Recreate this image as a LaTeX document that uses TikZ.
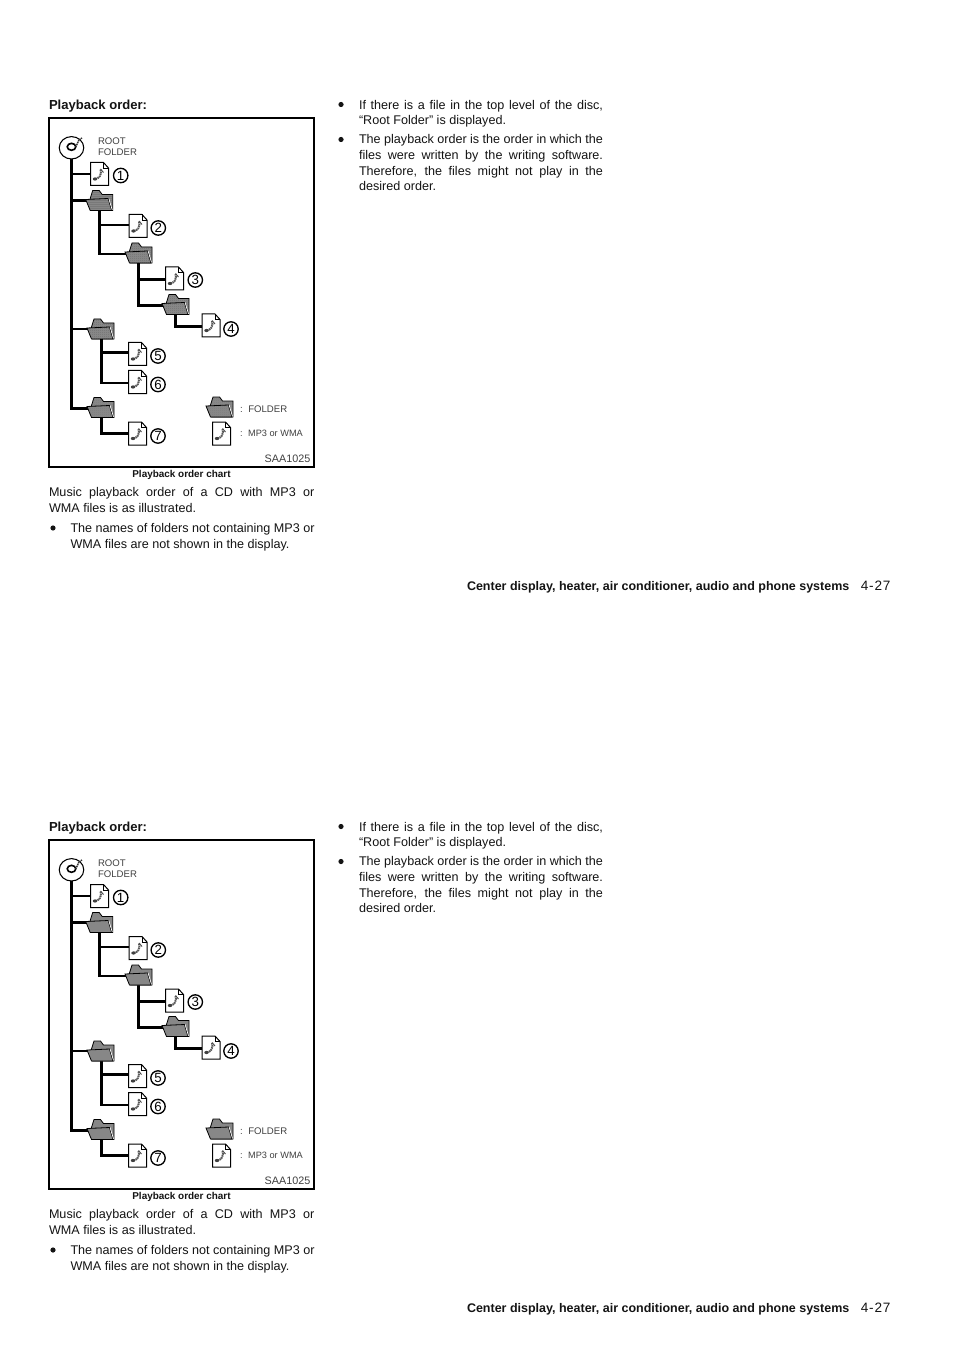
\documentclass[tikz,border=0pt]{standalone}
\usepackage{fontspec}
\setmainfont{Liberation Sans}
\usetikzlibrary{shapes.geometric,patterns.meta}
\definecolor{ink}{gray}{0.08}
\tikzset{
  conn/.style={draw=black,line width=2.1pt,line cap=butt,line join=miter},
  txt/.style={inner sep=0pt,outer sep=0pt,text=ink},
  body/.style={txt,anchor=north west,font=\fontsize{9.45}{11.8}\selectfont,align=justify},
  small/.style={txt,anchor=west,font=\fontsize{7.2}{8.4}\selectfont,text=black!75},
  slot/.style={inner sep=0pt,outer sep=0pt},
  num/.style={circle,draw=black,line width=1pt,inner sep=0pt,minimum size=10.8pt,font=\fontsize{10}{11}\selectfont},
  pics/fileicon/.style={code={
    \draw[fill=white,line width=0.75pt,line join=miter] (-9,-11.5) -- (4,-11.5) -- (9,-6) -- (9,11.5) -- (-9,11.5) -- cycle;
    \draw[line width=0.6pt] (4,-11.5) -- (4,-6) -- (9,-6);
    \draw[line width=1.5pt,black!65,dash pattern=on 1.1pt off 0.5pt] (-4,5) .. controls (-1,4.5) and (3,1) .. (1,-5);
    \draw[line width=0.7pt,black!70] (1,-5) -- (4,-1.5);
    \fill[black!75] (-4.5,5) ellipse (2.2 and 1.6);
  }},
  pics/foldericon/.style={code={
    \fill[black!42] (-9,-2) -- (-6.5,-10) -- (0,-10) -- (3,-6) -- (13.5,-6) -- (13.5,10) -- (8,10) -- (-8,10) -- cycle;
    \draw[line width=0.6pt,pattern={Dots[distance=1.5pt,radius=0.36pt]},pattern color=black] (-9,-2) -- (-6.5,-10) -- (0,-10) -- (3,-6) -- (13.5,-6) -- (13.5,10) -- (8,10) -- (-8,10) -- cycle;
    \draw[fill=black!42,line width=0.6pt] (-13.5,-1) -- (9,-2) -- (12.5,10) -- (-9,10) -- cycle;
    \path[pattern={Dots[distance=1.5pt,radius=0.36pt]},pattern color=black] (-13.5,-1) -- (9,-2) -- (12.5,10) -- (-9,10) -- cycle;
    \draw[white,line width=0.5pt] (9.6,-2) -- (13,9.4);
  }},
}
\newcommand{\FileAt}[3]{\node[slot,minimum width=13.5pt,minimum height=17.25pt] (#1) at (#2,#3) {}; }
\newcommand{\FolderAt}[3]{\node[slot,minimum width=20.25pt,minimum height=15pt] (#1) at (#2,#3) {}; }
\newcommand{\Chart}[2]{%
\begin{scope}[shift={(0,#2)},name prefix=#1]
  \node[txt,anchor=north west,font=\fontsize{9.8}{11}\selectfont\bfseries] (head) at (49,99.8) {Playback order:};
  \node[slot,draw=black,line width=1.15pt,minimum width=198.5pt,minimum height=261.5pt] (frame) at (181.5,292.4) {};
  \node[slot,ellipse,draw=black,line width=0.8pt,fill=white,minimum width=18.4pt,minimum height=16.8pt] (disc) at (71.5,147.8) {};
  \node[slot,ellipse,draw=black,line width=1.2pt,minimum width=6.4pt,minimum height=5.2pt] (hole) at (71.5,146.8) {};
  \draw[line width=1.1pt,black!80,dash pattern=on 1pt off 0.5pt] (hole.east) -- (79,140) -- (82,138);
  \node[small,font=\fontsize{7.2}{7.9}\selectfont,align=left,anchor=north west] (rootlabel) at (98,138) {ROOT\\FOLDER};
  % slots
  \FileAt{fa}{99.5}{174}
  \FolderAt{da}{99.2}{200.5}
  \FileAt{fb}{138}{226}
  \FolderAt{db}{138.5}{253}
  \FileAt{fc}{174.5}{278.5}
  \FolderAt{dc}{175.5}{304.5}
  \FileAt{fd}{211}{325.5}
  \FolderAt{dd}{100.5}{329}
  \FileAt{fe}{137.5}{354}
  \FileAt{ff}{137.5}{382}
  \FolderAt{de}{100.5}{407.5}
  \FileAt{fg}{137.5}{433.5}
  \FolderAt{dl}{219.5}{407}
  \FileAt{fl}{221.5}{433.5}
  % connectors
  \draw[conn] (disc.south) |- (fa.center);
  \draw[conn] (disc.south) |- (da.center);
  \draw[conn] (disc.south) |- (dd.center);
  \draw[conn] (disc.south) |- ([yshift=-1pt]de.center);
  \draw[conn] (da.center) |- ([yshift=0.7pt]fb.center);
  \draw[conn] (da.center) |- ([yshift=-0.7pt]db.center);
  \draw[conn] (db.center) |- ([yshift=-1pt]fc.center);
  \draw[conn] (db.center) |- ([yshift=-0.5pt]dc.center);
  \draw[conn] (dc.center) |- ([yshift=-1pt]fd.center);
  \draw[conn] ([xshift=1pt]dd.center) |- ([yshift=1.2pt]fe.center);
  \draw[conn] ([xshift=1pt]dd.center) |- ([yshift=-0.7pt]ff.center);
  \draw[conn] ([xshift=1pt]de.center) |- (fg.center);
  % icons
  \foreach \n in {fa,fb,fc,fd,fe,ff,fg,fl} {\pic at (\n.center) {fileicon};}
  \foreach \n in {da,db,dc,dd,de,dl} {\pic at (\n.center) {foldericon};}
  % numbers
  \node[num] (na) at (120.7,175.5) {1};
  \node[num] (nb) at (158.3,228) {2};
  \node[num] (nc) at (195.3,280) {3};
  \node[num] (nd) at (231,329) {4};
  \node[num] (ne) at (158,356) {5};
  \node[num] (nf) at (158,384.5) {6};
  \node[num] (ng) at (158,436) {7};
  % legend
  \node[small] (lf) at (240,408.8) {:\hspace{4.2pt}FOLDER};
  \node[small,font=\fontsize{6.9}{8}\selectfont] (lm) at (240,433.3) {:\hspace{4.2pt}MP3 or WMA};
  \node[small,anchor=east,font=\fontsize{8.1}{9}\selectfont] (code) at (310.3,458.5) {SAA1025};
  \node[txt,font=\fontsize{7.45}{8}\selectfont\bfseries] (cap) at (181.5,475.4) {Playback order chart};
  % text
  \node[body,text width=199pt] (pa) at (49,487.5) {Music playback order of a CD with MP3 or\linebreak WMA files is as illustrated.};
  \node[body,text width=183pt] (pb) at (70.5,523.5) {The names of folders not containing MP3 or\linebreak WMA files are not shown in the display.};
  \node[slot,circle,fill=ink,minimum size=3.9pt] (ba) at (53,528) {};
  \node[body,text width=183pt] (pc) at (359,100) {If there is a file in the top level of the disc,\linebreak “Root Folder” is displayed.};
  \node[body,text width=183pt] (pd) at (359,134.6) {The playback order is the order in which the\linebreak files were written by the writing software.\linebreak Therefore, the files might not play in the\linebreak desired order.};
  \node[slot,circle,fill=ink,minimum size=3.9pt] (bb) at (341,104.5) {};
  \node[slot,circle,fill=ink,minimum size=3.9pt] (bc) at (341,139.5) {};
  \node[txt,anchor=base west,font=\fontsize{9.37}{11}\selectfont\bfseries] (fa1) at (467,590) {Center display, heater, air conditioner, audio and phone systems};
  \node[txt,anchor=base east,font=\fontsize{10.2}{11}\selectfont\addfontfeature{LetterSpace=6}] (fa2) at (890.5,590) {4-27};
\end{scope}}
\begin{document}
\begin{tikzpicture}[x=0.75pt,y=-0.75pt]
  \useasboundingbox[fill=white] (0,0) rectangle (954,1351);
  \Chart{t}{0}
  \Chart{u}{722}
\end{tikzpicture}
\end{document}
